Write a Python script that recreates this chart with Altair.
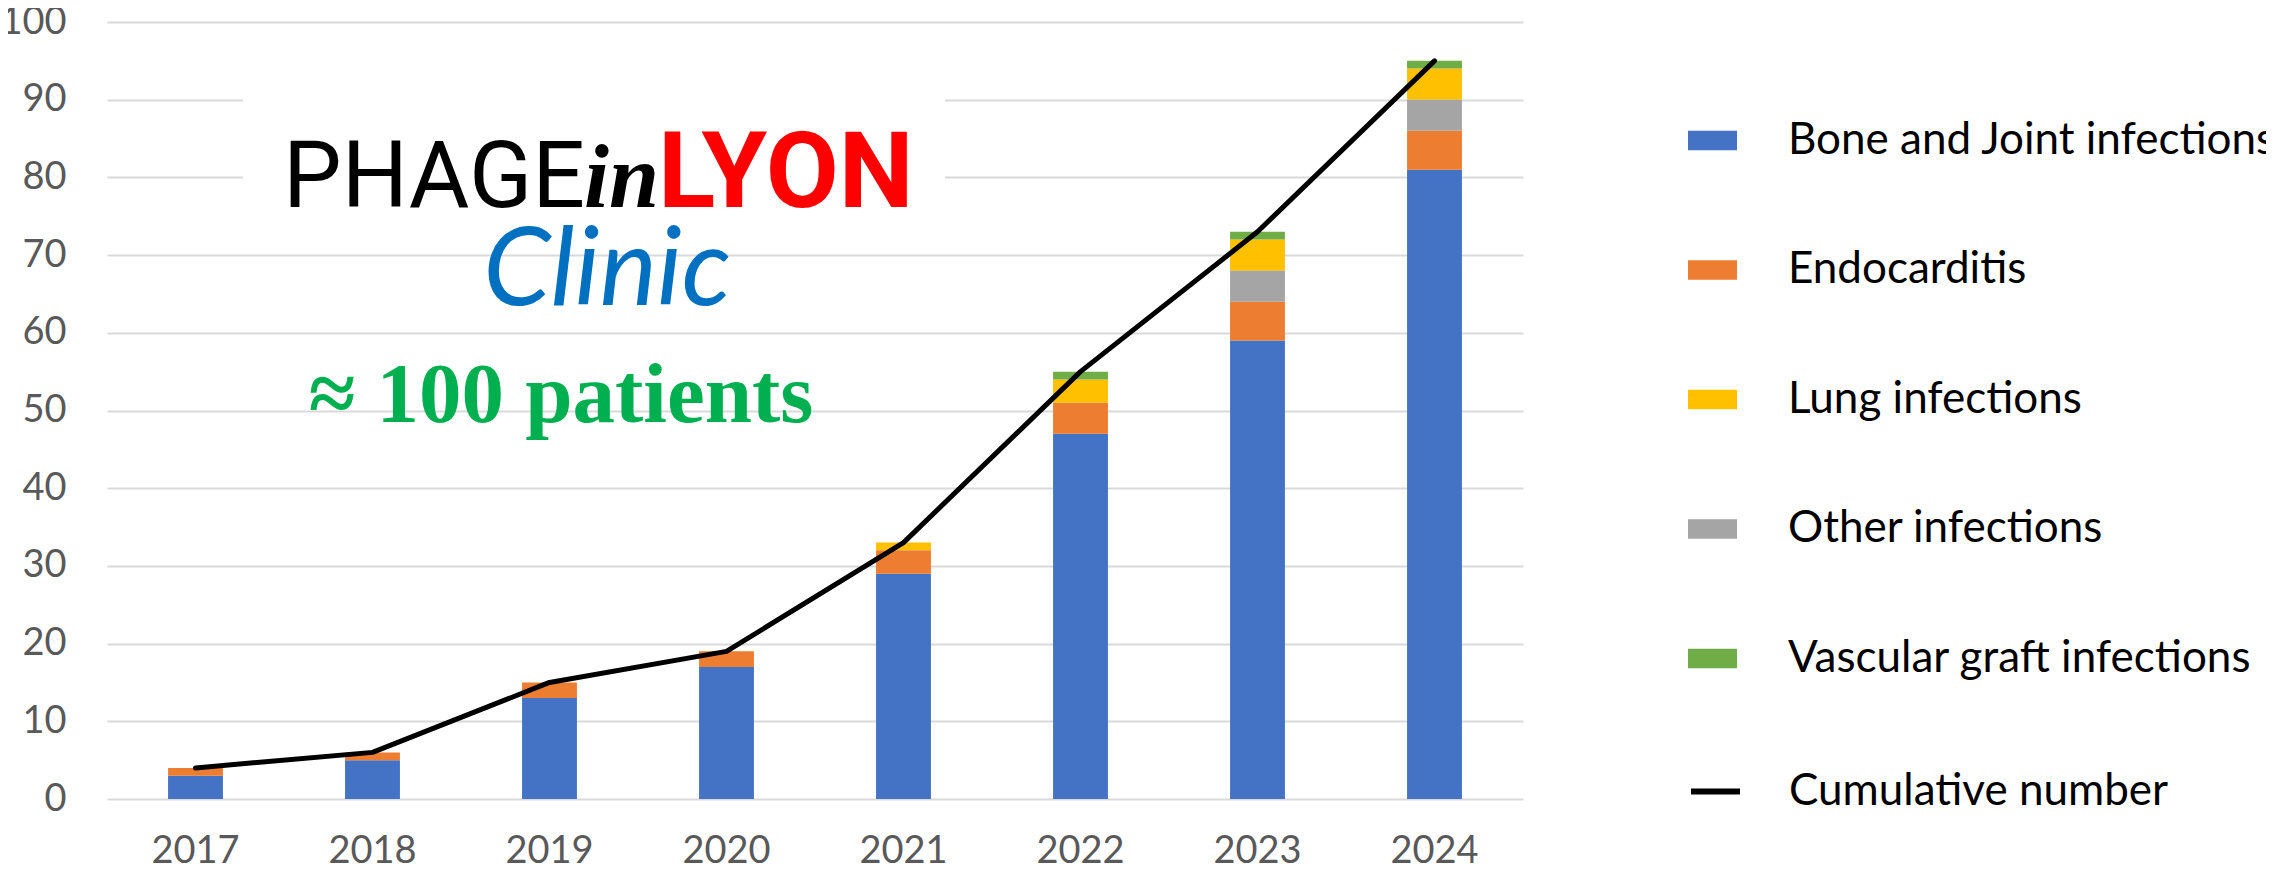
import altair as alt
import pandas as pd

years = ["2017", "2018", "2019", "2020", "2021", "2022", "2023", "2024"]
bone = [3, 5, 13, 17, 29, 47, 59, 81]
endo = [1, 1, 2, 2, 3, 4, 5, 5]
lung = [0, 0, 0, 0, 1, 3, 4, 4]
other = [0, 0, 0, 0, 0, 0, 4, 4]
vascular = [0, 0, 0, 0, 0, 1, 1, 1]
cumulative = [4, 6, 15, 19, 33, 55, 73, 95]

series_names = ["Bone and Joint infections", "Endocarditis", "Lung infections",
                "Other infections", "Vascular graft infections"]
series_values = [bone, endo, lung, other, vascular]
stack_order = [0, 1, 3, 2, 4]
colors = ["#4472C4", "#ED7D31", "#FFC000", "#A5A5A5", "#70AD47"]
line_name = "Cumulative number"

rows = []
for name, vals, order in zip(series_names, series_values, stack_order):
    for yr, v in zip(years, vals):
        rows.append({"year": yr, "series": name, "count": v, "order": order})
bars_df = pd.DataFrame(rows)
line_df = pd.DataFrame({"year": years, "total": cumulative, "kind": [line_name] * len(years)})

FONT = "Lato"
x_enc = alt.X("year:N", sort=years,
              scale=alt.Scale(paddingInner=0.69, paddingOuter=0.345),
              axis=alt.Axis(title=None, labelAngle=0, domain=False, ticks=False,
                            labelPadding=33, labelFontSize=38, labelColor="#595959",
                            labelFont=FONT, grid=False))
y_axis = alt.Axis(title=None, values=list(range(0, 101, 10)), domain=False, ticks=False,
                  labelPadding=41, labelFontSize=38, labelColor="#595959", labelFont=FONT,
                  gridColor="#D9D9D9", gridWidth=2)

bars = alt.Chart(bars_df).mark_bar().encode(
    x=x_enc,
    y=alt.Y("count:Q", stack="zero", scale=alt.Scale(domain=[0, 100]), axis=y_axis),
    color=alt.Color("series:N", scale=alt.Scale(domain=series_names, range=colors),
                    legend=alt.Legend(title=None, orient="none", legendX=1581, legendY=94,
                                      symbolType="M-1,-0.4H1V0.4H-1Z", symbolSize=2401,
                                      symbolStrokeWidth=0, rowPadding=82.5, labelFontSize=44,
                                      labelFont=FONT, labelColor="black", labelOffset=51,
                                      labelLimit=1000, padding=0)),
    order=alt.Order("order:Q"),
)

line = alt.Chart(line_df).mark_line(strokeWidth=5, strokeCap="round", strokeJoin="round").encode(
    x=alt.X("year:N", sort=years),
    y=alt.Y("total:Q"),
    stroke=alt.Stroke("kind:N", scale=alt.Scale(domain=[line_name], range=["black"]),
                      legend=alt.Legend(title=None, orient="none", legendX=1581, legendY=742,
                                        symbolType="stroke", symbolSize=2401,
                                        symbolStrokeWidth=6, labelFontSize=44,
                                        labelFont=FONT, labelColor="black", labelOffset=46,
                                        labelLimit=1000, padding=0)),
)

blank = alt.Data(values=[{}])
cover = alt.Chart(blank).mark_rect(color="white").encode(
    x=alt.value(136), x2=alt.value(838), y=alt.value(38), y2=alt.value(190))

phage = alt.Chart(blank).mark_text(text="PHAGE", font="Roboto", fontSize=93, fontWeight=400,
                                   color="black", align="left", baseline="alphabetic").encode(
    x=alt.value(176), y=alt.value(185))
inn = alt.Chart(blank).mark_text(text="in", font="Liberation Serif", fontSize=90, fontStyle="italic",
                                 fontWeight="bold", color="black", align="left",
                                 baseline="alphabetic").encode(x=alt.value(477), y=alt.value(185))
lyon = alt.Chart(blank).mark_text(text="LYON", font="Roboto", fontSize=106, fontWeight="bold",
                                  color="#FF0000", align="left", baseline="alphabetic").encode(
    x=alt.value(551), y=alt.value(185))
clinic = alt.Chart(blank).mark_text(text="Clinic", font=FONT, fontSize=108, fontStyle="italic",
                                    color="#0070C0", align="center", baseline="alphabetic").encode(
    x=alt.value(500), y=alt.value(283))
patients = alt.Chart(blank).mark_text(text="≈ 100 patients", font="Liberation Serif", fontSize=85,
                                      fontWeight="bold", color="#00B050", align="center",
                                      baseline="alphabetic").encode(x=alt.value(454), y=alt.value(400))

chart = alt.layer(cover, bars, line, phage, inn, lyon, clinic, patients).resolve_legend(
    color="independent", stroke="independent"
).properties(
    width=1416, height=777,
    padding={"left": 99, "top": 14, "right": 743, "bottom": 64},
    autosize=alt.AutoSizeParams(type="none"),
).configure_view(stroke=None)

chart.save("out.html", embed_options={"renderer": "svg", "actions": False})
